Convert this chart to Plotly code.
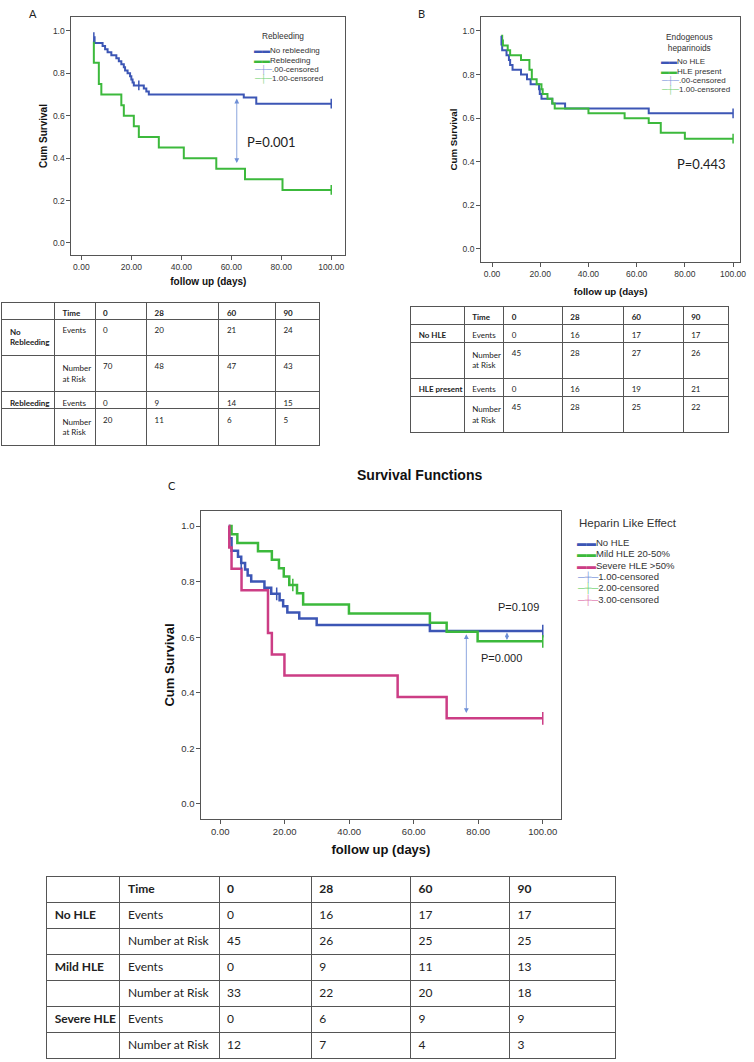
import plotly.graph_objects as go

W, H = 754, 1062
def fx(p):
    return p / W
def fy(p):
    return 1 - p / H

NB = "\u00a0"

# ------------------------------------------------------------------ data
time_points = [0, 28, 60, 90]
x_ticks = [0, 20, 40, 60, 80, 100]
y_ticks = [0.0, 0.2, 0.4, 0.6, 0.8, 1.0]

# Panel A : Rebleeding
a_no_t = [5.0, 5.3, 8.5, 9.5, 10.5, 12.0, 14.0, 15.0, 16.0, 17.0, 17.5, 18.5, 19.5, 20.0, 20.5, 21.0, 25.0, 26.0, 27.0, 65.0, 70.0, 100.0]
a_no_s = [0.971, 0.943, 0.929, 0.914, 0.900, 0.886, 0.871, 0.857, 0.843, 0.829, 0.814, 0.800, 0.786, 0.771, 0.757, 0.743, 0.729, 0.714, 0.700, 0.686, 0.657, 0.657]
a_re_t = [4.8, 5.0, 7.0, 8.0, 16.0, 17.0, 21.0, 23.0, 31.0, 41.0, 54.0, 65.5, 80.5, 100.0]
a_re_s = [0.95, 0.85, 0.75, 0.70, 0.65, 0.60, 0.55, 0.50, 0.45, 0.40, 0.35, 0.30, 0.25, 0.25]
a_no_cens_t = [5.0, 23.0, 100.0]
a_no_cens_s = [0.971, 0.743, 0.657]
a_re_cens_t = [100.0]
a_re_cens_s = [0.25]
a_arrow_x = 62.2
a_arrow_y = [0.688, 0.377]
a_p_text = "P=0.001"
a_p_pos = [76.2, 0.476]

# Panel B : Endogenous heparinoids
b_no_t = [3.8, 4.2, 6.0, 7.0, 7.5, 8.5, 12.0, 14.5, 16.0, 19.5, 19.8, 20.5, 25.0, 30.3, 65.0, 100.0]
b_no_s = [0.956, 0.911, 0.889, 0.867, 0.844, 0.822, 0.800, 0.778, 0.756, 0.733, 0.711, 0.689, 0.667, 0.644, 0.622, 0.622]
b_hle_t = [3.8, 4.2, 4.5, 6.5, 7.5, 12.0, 15.5, 16.5, 18.5, 20.5, 21.0, 23.0, 25.0, 26.0, 40.0, 55.0, 65.0, 70.0, 80.0, 100.0]
b_hle_s = [0.978, 0.956, 0.933, 0.911, 0.889, 0.867, 0.822, 0.778, 0.756, 0.733, 0.711, 0.689, 0.667, 0.644, 0.622, 0.600, 0.578, 0.533, 0.506, 0.506]
b_no_cens_t = [3.8, 100.0]
b_no_cens_s = [0.956, 0.622]
b_hle_cens_t = [100.0]
b_hle_cens_s = [0.506]
b_p_text = "P=0.443"
b_p_pos = [86.8, 0.39]

# Panel C : Heparin Like Effect
c_no_t = [2.6, 2.8, 3.5, 5.5, 6.5, 7.7, 8.5, 9.6, 13.7, 15.8, 18.4, 19.5, 20.8, 24.5, 29.9, 65.0, 100.0]
c_no_s = [1.0, 0.956, 0.911, 0.889, 0.867, 0.844, 0.822, 0.800, 0.778, 0.756, 0.733, 0.711, 0.689, 0.667, 0.644, 0.622, 0.622]
c_mild_t = [2.8, 3.5, 5.3, 11.7, 16.0, 18.2, 19.7, 21.4, 23.8, 25.7, 39.9, 65.0, 70.2, 79.8, 100.0]
c_mild_s = [1.0, 0.970, 0.939, 0.909, 0.879, 0.848, 0.818, 0.788, 0.758, 0.718, 0.685, 0.652, 0.620, 0.585, 0.585]
c_sev_t = [2.6, 2.8, 3.5, 6.6, 14.8, 16.0, 19.9, 55.0, 70.2, 100.0]
c_sev_s = [1.0, 0.923, 0.846, 0.769, 0.615, 0.538, 0.462, 0.385, 0.308, 0.308]
c_no_cens_t = [6.5, 17.5, 100.0]
c_no_cens_s = [0.867, 0.756, 0.622]
c_mild_cens_t = [22.5, 100.0]
c_mild_cens_s = [0.788, 0.585]
c_sev_cens_t = [100.0]
c_sev_cens_s = [0.308]
c_arrow1_x = 76.3
c_arrow1_y = [0.616, 0.327]
c_arrow2_x = 88.9
c_arrow2_y = [0.622, 0.590]
c_p1_text = "P=0.109"
c_p1_pos = [92.6, 0.709]
c_p2_text = "P=0.000"
c_p2_pos = [87.1, 0.525]

# Tables (number of events / number at risk at each time point)
ta_groups = ["No<br>Rebleeding", "Rebleeding"]
ta_events = [[0, 20, 21, 24], [0, 9, 14, 15]]
ta_risk = [[70, 48, 47, 43], [20, 11, 6, 5]]
tb_groups = ["No HLE", "HLE present"]
tb_events = [[0, 16, 17, 17], [0, 16, 19, 21]]
tb_risk = [[45, 28, 27, 26], [45, 28, 25, 22]]
tc_groups = ["No HLE", "Mild HLE", "Severe HLE"]
tc_events = [[0, 16, 17, 17], [0, 9, 11, 13], [0, 6, 9, 9]]
tc_risk = [[45, 26, 25, 25], [33, 22, 20, 18], [12, 7, 4, 3]]

leg_a_title = "Rebleeding"
leg_a_labels = ["No rebleeding", "Rebleeding", ".00-censored", "1.00-censored"]
leg_b_title = "Endogenous<br>heparinoids"
leg_b_labels = ["No HLE", "HLE present", ".00-censored", "1.00-censored"]
leg_c_title = "Heparin Like Effect"
leg_c_labels = ["No HLE", "Mild HLE 20-50%", "Severe HLE >50%", "1.00-censored", "2.00-censored", "3.00-censored"]

# ------------------------------------------------------------------ style
BLUE = "#3C56B5"
GREEN = "#3CB93C"
MAG = "#CC3D85"
BLUE_L = "#7B93DA"
GREEN_L = "#74D274"
MAG_L = "#E07BB0"
ARROW = "#6E8FD6"
AX = "Liberation Sans, Arial, sans-serif"
TF = "Lato, Carlito, sans-serif"
LINEC = "#555555"

fig = go.Figure()

def curve(t, s, color, xa, ya, width):
    fig.add_trace(go.Scatter(x=t, y=s, mode="lines", line=dict(color=color, width=width, shape="hv"),
                             xaxis=xa, yaxis=ya, showlegend=False, hoverinfo="skip"))

def cens(t, s, color, xa, ya, size=8):
    fig.add_trace(go.Scatter(x=t, y=s, mode="markers",
                             marker=dict(symbol="line-ns-open", size=size, color=color,
                                         line=dict(color=color, width=1.5)),
                             xaxis=xa, yaxis=ya, showlegend=False, hoverinfo="skip"))

curve(a_no_t, a_no_s, BLUE, "x", "y", 2)
curve(a_re_t, a_re_s, GREEN, "x", "y", 2)
cens(a_no_cens_t, a_no_cens_s, BLUE, "x", "y", 7)
cens(a_re_cens_t, a_re_cens_s, GREEN, "x", "y", 7)

curve(b_no_t, b_no_s, BLUE, "x2", "y2", 2)
curve(b_hle_t, b_hle_s, GREEN, "x2", "y2", 2)
cens(b_no_cens_t, b_no_cens_s, BLUE, "x2", "y2", 7)
cens(b_hle_cens_t, b_hle_cens_s, GREEN, "x2", "y2", 7)

curve(c_no_t, c_no_s, BLUE, "x3", "y3", 2.5)
curve(c_mild_t, c_mild_s, GREEN, "x3", "y3", 2.5)
curve(c_sev_t, c_sev_s, MAG, "x3", "y3", 2.5)
cens(c_no_cens_t, c_no_cens_s, BLUE, "x3", "y3", 9)
cens(c_mild_cens_t, c_mild_cens_s, GREEN, "x3", "y3", 9)
cens(c_sev_cens_t, c_sev_cens_s, MAG, "x3", "y3", 9)

# ------------------------------------------------------------------ tables
def table(domx, domy, widths, groups, events, risk, risk_label, fsize, height):
    hdr = ["", "Time"] + [str(t) for t in time_points]
    col0, col1 = [], []
    for g in groups:
        col0 += [g.replace(" ", NB), ""]
        col1 += ["Events", risk_label]
    cols = [col0, col1]
    for i in range(len(time_points)):
        c = []
        for e, r in zip(events, risk):
            c += [str(e[i]), str(r[i])]
        cols.append(c)
    ncol = len(cols)
    fig.add_trace(go.Table(
        domain=dict(x=domx, y=domy),
        columnwidth=widths,
        header=dict(values=hdr, align="left", height=height,
                    font=dict(family=TF, size=fsize, color="#222", weight="bold"),
                    line=dict(color=LINEC, width=1), fill=dict(color="white")),
        cells=dict(values=cols, align="left", height=height,
                   font=dict(family=TF, size=fsize, color="#222",
                             weight=["bold"] + ["normal"] * (ncol - 1)),
                   line=dict(color=LINEC, width=1), fill=dict(color="white")),
    ))

table([fx(2), fx(323)], [fy(470), fy(302)], [53, 41, 52, 73, 57, 45],
      ta_groups, ta_events, ta_risk, "Number<br>at Risk", 8, 17)
table([fx(414), fx(735)], [fy(460), fy(306)], [54, 40, 59, 62, 60, 46],
      tb_groups, tb_events, tb_risk, "Number<br>at Risk", 8, 18)
table([fx(47), fx(621)], [fy(1062), fy(876)], [74, 100, 93, 100, 100, 107],
      tc_groups, tc_events, tc_risk, "Number at Risk".replace(" ", NB), 12, 26)

# ------------------------------------------------------------------ axes
def axes(n, dx, dy, xr, yr, tsize, tt_size, xstand, ystand):
    sfx = "" if n == 1 else str(n)
    common = dict(showline=True, mirror=True, linecolor=LINEC, linewidth=1, showgrid=False,
                  zeroline=False, ticks="outside", ticklen=4, tickcolor=LINEC,
                  tickfont=dict(family=AX, size=tsize, color="#333"))
    fig.update_layout(**{
        "xaxis" + sfx: dict(domain=dx, range=xr, tickvals=x_ticks, tickformat=".2f",
                            anchor="y" + sfx,
                            title=dict(text="<b>follow up (days)</b>", standoff=xstand,
                                       font=dict(family=AX, size=tt_size, color="#111")),
                            **common),
        "yaxis" + sfx: dict(domain=dy, range=yr, tickvals=y_ticks, tickformat=".1f",
                            anchor="x" + sfx,
                            title=dict(text="<b>Cum Survival</b>", standoff=ystand,
                                       font=dict(family=AX, size=tt_size, color="#111")),
                            **common),
    })

axes(1, [fx(72), fx(348)], [fy(255), fy(17)], [-3.97, 105.6], [-0.057, 1.066], 8.5, 10, 6, 3)
axes(2, [fx(485), fx(746)], [fy(262), fy(17)], [-4.53, 102.9], [-0.06, 1.064], 8.5, 9.7, 10, 3)
axes(3, [fx(203), fx(565)], [fy(819), fy(511)], [-5.85, 105.5], [-0.054, 1.054], 9.5, 13, 8, 3)

# ------------------------------------------------------------------ annotations
ann = []
def arrow(x, ys, xr, yr, size=1.2):
    ann.append(dict(x=x, y=ys[1], ax=x, ay=ys[0], xref=xr, yref=yr, axref=xr, ayref=yr,
                    text="", showarrow=True, arrowhead=2, startarrowhead=2, arrowside="end+start",
                    arrowsize=size, startarrowsize=size, arrowwidth=0.8, arrowcolor=ARROW,
                    standoff=0, startstandoff=0))

def ptext(txt, pos, xr, yr, size, fam):
    ann.append(dict(x=pos[0], y=pos[1], xref=xr, yref=yr, text=txt, showarrow=False,
                    font=dict(family=fam, size=size, color="#222")))

arrow(a_arrow_x, a_arrow_y, "x", "y")
arrow(c_arrow1_x, c_arrow1_y, "x3", "y3")
arrow(c_arrow2_x, c_arrow2_y, "x3", "y3", 1.0)
ptext(a_p_text, a_p_pos, "x", "y", 13, TF)
ptext(b_p_text, b_p_pos, "x2", "y2", 13, TF)
ptext(c_p1_text, c_p1_pos, "x3", "y3", 11, AX)
ptext(c_p2_text, c_p2_pos, "x3", "y3", 11, AX)

def paper_text(txt, px, py, size, fam, xanchor="center", color="#222"):
    ann.append(dict(x=fx(px), y=fy(py), xref="paper", yref="paper", text=txt, showarrow=False,
                    xanchor=xanchor, yanchor="middle", font=dict(family=fam, size=size, color=color)))

paper_text("A", 33, 13, 11, TF)
paper_text("B", 425, 13, 11, TF)
paper_text("C", 173, 485, 11, TF)
paper_text("<b>Survival Functions</b>", 423, 475, 14, AX, color="#111")

def legend(title, tpos, tanchor, tsize, labels, colors, kinds, x0, y0, dy, size, line_sw, cens_sw):
    paper_text(title, tpos[0], tpos[1], tsize, AX, xanchor=tanchor, color="#333")
    for i, (lab, c, k) in enumerate(zip(labels, colors, kinds)):
        sw = line_sw if k == "line" else cens_sw
        paper_text("<span style='color:%s'>%s</span>%s" % (c, sw, lab), x0, y0 + dy * i, size, AX,
                   xanchor="left", color="#333")

legend(leg_a_title, (285, 36), "center", 8.3, leg_a_labels, [BLUE, GREEN, BLUE_L, GREEN_L],
       ["line", "line", "cens", "cens"], 254, 51, 9.1, 8, "▬▬", "─┼─")
legend(leg_b_title, (695, 43), "center", 8.3, leg_b_labels, [BLUE, GREEN, BLUE_L, GREEN_L],
       ["line", "line", "cens", "cens"], 664, 62, 9.3, 8, "▬▬", "─┼─")
legend(leg_c_title, (582, 523), "left", 11.5, leg_c_labels, [BLUE, GREEN, MAG, BLUE_L, GREEN_L, MAG_L],
       ["line", "line", "line", "cens", "cens", "cens"], 580, 542, 11.6, 9.5, "▬▬", "─┼─")

fig.update_layout(width=W, height=H, margin=dict(l=0, r=0, t=0, b=0),
                  paper_bgcolor="white", plot_bgcolor="white", showlegend=False,
                  annotations=ann)

fig.write_html("out.html", config={"displayModeBar": False},
               post_script="document.body.style.margin='0';document.body.style.overflow='hidden';")
